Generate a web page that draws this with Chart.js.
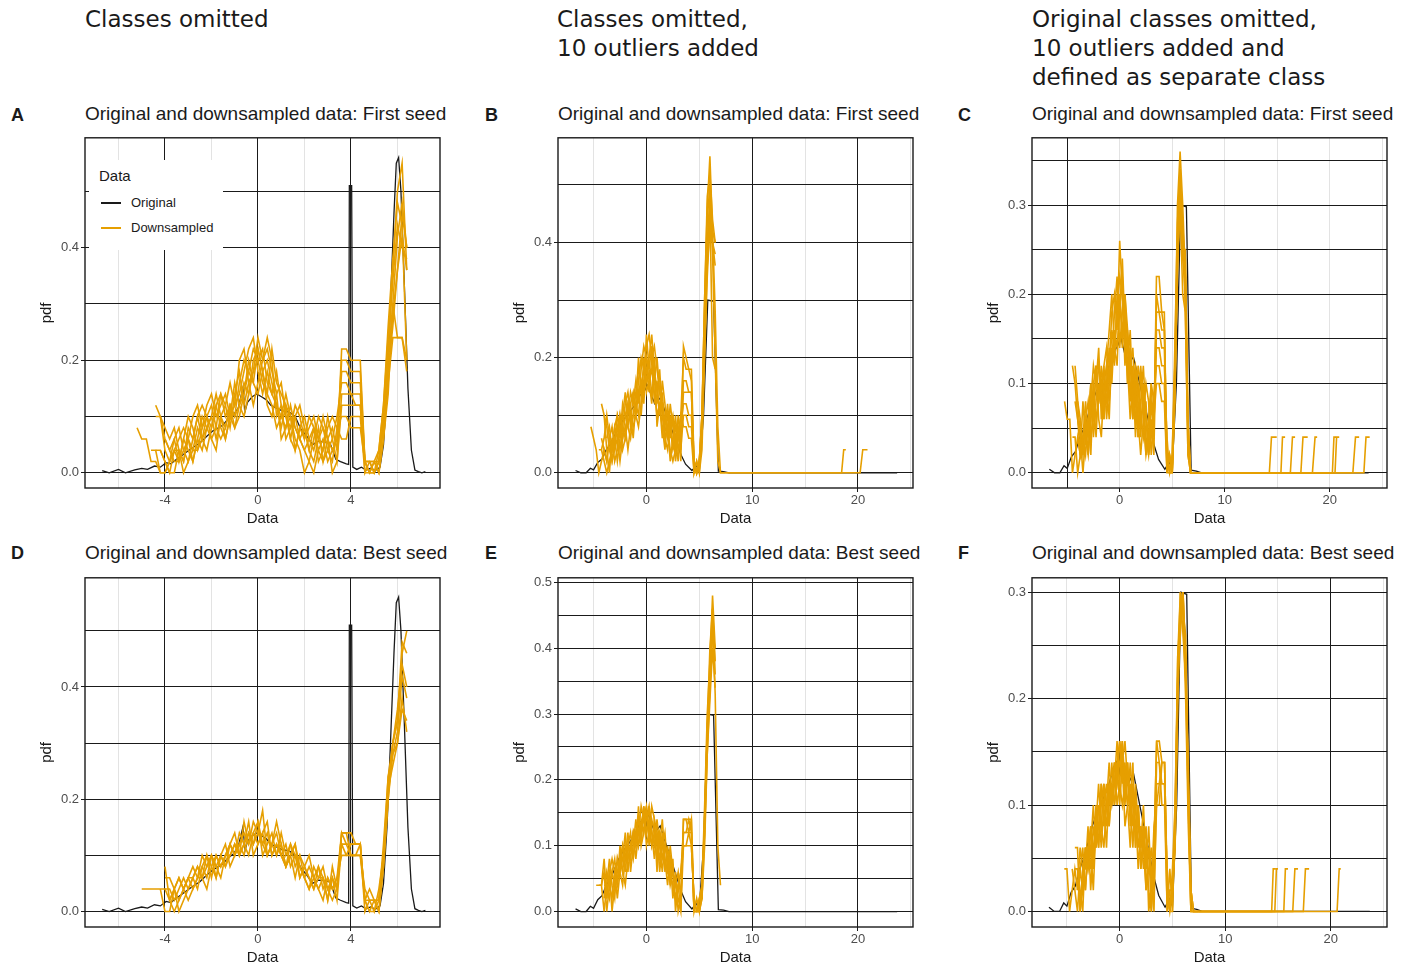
<!DOCTYPE html>
<html>
<head>
<meta charset="utf-8">
<script src="https://cdn.jsdelivr.net/npm/chart.js@4.4.1/dist/chart.umd.min.js"></script>
<style>
body{margin:0;background:#fff;width:1411px;height:968px;position:relative;overflow:hidden;color:#1a1a1a}
.hdr{position:absolute;top:5px;font:23px/29px "DejaVu Sans";white-space:nowrap}
.ptitle{position:absolute;font:19px/20px "Liberation Sans";white-space:nowrap}
.tag{position:absolute;font:bold 18px/18px "Liberation Sans"}
canvas{position:absolute}
#legend{position:absolute;left:89px;top:160px;width:134px;height:90px;background:#fff;font-family:"Liberation Sans"}
#legend div{position:absolute;white-space:nowrap}
</style>
</head>
<body>
<div class="hdr" style="left:85px">Classes omitted</div>
<div class="hdr" style="left:557px">Classes omitted,<br>10 outliers added</div>
<div class="hdr" style="left:1032px">Original classes omitted,<br>10 outliers added and<br>defined as separate class</div>

<div class="tag" style="left:11px;top:106px">A</div>
<div class="tag" style="left:485px;top:106px">B</div>
<div class="tag" style="left:958px;top:106px">C</div>
<div class="tag" style="left:11px;top:544px">D</div>
<div class="tag" style="left:485px;top:544px">E</div>
<div class="tag" style="left:958px;top:544px">F</div>

<div class="ptitle" style="left:85px;top:104px">Original and downsampled data: First seed</div>
<div class="ptitle" style="left:558px;top:104px">Original and downsampled data: First seed</div>
<div class="ptitle" style="left:1032px;top:104px">Original and downsampled data: First seed</div>
<div class="ptitle" style="left:85px;top:543px">Original and downsampled data: Best seed</div>
<div class="ptitle" style="left:558px;top:543px">Original and downsampled data: Best seed</div>
<div class="ptitle" style="left:1032px;top:543px">Original and downsampled data: Best seed</div>

<canvas id="cA" width="415" height="400" style="left:30px;top:128px"></canvas>
<canvas id="cB" width="415" height="400" style="left:503px;top:128px"></canvas>
<canvas id="cC" width="415" height="400" style="left:977px;top:128px"></canvas>
<canvas id="cD" width="415" height="399" style="left:30px;top:568px"></canvas>
<canvas id="cE" width="415" height="399" style="left:503px;top:568px"></canvas>
<canvas id="cF" width="415" height="399" style="left:977px;top:568px"></canvas>

<div id="legend">
  <div style="left:10px;top:7px;font-size:15px;color:#1a1a1a">Data</div>
  <div style="left:12px;top:42px;width:20px;height:2px;background:#1a1a1a"></div>
  <div style="left:42px;top:35px;font-size:13px;color:#1a1a1a">Original</div>
  <div style="left:12px;top:67px;width:20px;height:2px;background:#E69F00"></div>
  <div style="left:42px;top:60px;font-size:13px;color:#1a1a1a">Downsampled</div>
</div>

<script>
const ORANGE = '#E69F00';
const INK = '#1a1a1a';
const MINOR = '#e3e3e3';

// x grids of the downsampled densities
const gridAD = [-5.2,-5.0,-4.8,-4.6,-4.4,-4.2,-4.0,-3.8,-3.6,-3.4,-3.2,-3.0,-2.8,-2.6,-2.4,-2.2,-2.0,-1.8,-1.6,-1.4,
  -1.2,-1.0,-0.8,-0.6,-0.4,-0.2,0,0.2,0.4,0.6,0.8,1.0,1.2,1.4,1.6,1.8,2.0,2.2,2.4,2.6,
  2.8,3.0,3.2,3.4,3.6,3.8,4.0,4.2,4.4,4.6,4.8,5.0,5.2,5.4,5.6,5.8,6.0,6.2,6.4];
const gridBF = [-5.25,-5,-4.75,-4.5,-4.25,-4,-3.75,-3.5,-3.25,-3,-2.75,-2.5,-2.25,-2,-1.75,-1.5,-1.25,-1,-0.75,-0.5,
  -0.25,0,0.25,0.5,0.75,1,1.25,1.5,1.75,2,2.25,2.5,2.75,3,3.25,3.5,3.75,4,4.25,4.5,
  4.75,5,5.25,5.5,5.75,6,6.25,6.5,6.75,7,7.25,7.5];

// original density (panels A, D)
const origAX = [-6.7,-6.4,-6.0,-5.7,-5.3,-5.0,-4.75,-4.45,-4.2,-3.95,-3.75,-3.5,-3.3,-3.1,-2.8,-2.5,-2.2,-1.95,-1.7,-1.5,
  -1.3,-1.05,-0.85,-0.65,-0.55,-0.45,-0.25,-0.05,0.15,0.35,0.55,0.8,1.05,1.35,1.6,1.85,2.1,2.35,2.6,2.85,
  3.1,3.35,3.55,3.8,3.9,3.93,4.03,4.08,4.25,4.45,4.65,4.85,5.05,5.25,5.4,5.55,5.7,5.85,5.95,6.05,
  6.15,6.3,6.45,6.6,6.75,6.9,7.05,7.2];
const origAY = [0.004,0,0.006,0,0.005,0.008,0.006,0.012,0.01,0.018,0.016,0.024,0.03,0.036,0.045,0.053,0.065,0.074,0.08,0.085,
  0.095,0.103,0.115,0.15,0.11,0.125,0.135,0.14,0.135,0.13,0.12,0.115,0.11,0.108,0.1,0.077,0.065,0.05,0.056,0.055,
  0.053,0.024,0.02,0.016,0.015,0.51,0.51,0.01,0.006,0.01,0.005,0.008,0.004,0.01,0.05,0.15,0.3,0.46,0.55,0.56,
  0.5,0.33,0.15,0.04,0.005,0.002,0,0.002];

// original density with outliers (panels B, C, E, F)
const origBX = [-6.7,-6.2,-5.7,-5.3,-5.0,-4.6,-4.2,-3.8,-3.4,-3.0,-2.6,-2.2,-1.8,-1.4,-1.0,-0.6,-0.2,0.1,0.45,0.8,
  1.3,1.7,2.1,2.5,2.9,3.3,3.7,4.3,4.7,5.0,5.4,5.8,6.35,6.8,7.3,7.8,23.7];
const origBY = [0.004,0,0,0.008,0.005,0.018,0.024,0.04,0.05,0.065,0.08,0.092,0.1,0.11,0.12,0.135,0.142,0.152,0.135,0.12,
  0.13,0.11,0.09,0.07,0.05,0.03,0.015,0.004,0.012,0.005,0.1,0.3,0.298,0.003,0.002,0,0];

// downsampled densities, first seed, classes omitted
const downA = [
  [0.08,0.06,0.06,0.02,0.02,0,0,0.02,0.04,0.04, 0.02,0.06,0.04,0.08,0.06,0.1,0.08,0.12,0.08,0.06, 0.1,0.08,0.12,0.16,0.14,0.2,0.22,0.18,0.2,0.16, 0.12,0.1,0.08,0.12,0.08,0.06,0.04,0.06,0.08,0.04, 0.06,0.02,0.04,0.06,0.2,0.2,0.18,0.18,0.18,0.02, 0.02,0,0.02,0.08,0.2,0.3,0.42,0.48,0.4],
  [null,null,null,null,0.12,0.1,0.06,0.04,0.02,0.02, 0.06,0.04,0.02,0.06,0.1,0.08,0.06,0.04,0.1,0.12, 0.08,0.14,0.18,0.12,0.16,0.18,0.24,0.2,0.22,0.18, 0.14,0.16,0.1,0.06,0.1,0.12,0.08,0.04,0.02,0.06, 0.1,0.06,0.08,0.04,0.22,0.22,0.2,0.2,0.2,0.02, 0,0,0.04,0.12,0.24,0.36,0.5,0.55,0.36],
  [null,null,null,null,0.04,0.04,0.02,0,0,0.04, 0.02,0.08,0.06,0.1,0.06,0.04,0.08,0.12,0.14,0.1, 0.12,0.08,0.1,0.14,0.2,0.16,0.14,0.18,0.12,0.1, 0.14,0.06,0.08,0.1,0.04,0.08,0.1,0.06,0.04,0.08, 0.02,0.06,0,0.02,0.12,0.12,0.12,0.12,0.12,0.02, 0.02,0.02,0,0.06,0.16,0.24,0.24,0.24,0.2],
  [null,null,null,0.04,0.04,0,0,0.02,0.06,0.08, 0.04,0.02,0.06,0.1,0.12,0.1,0.12,0.08,0.06,0.08, 0.12,0.1,0.16,0.2,0.18,0.22,0.2,0.16,0.14,0.12, 0.08,0.1,0.14,0.1,0.06,0.04,0,0.02,0.06,0.1, 0.08,0.04,0.06,0.1,0.16,0.16,0.14,0.14,0.14,0, 0,0.02,0.02,0.1,0.22,0.34,0.44,0.4,0.38],
  [null,null,null,null,null,0.1,0.08,0.06,0.08,0.04, 0,0.02,0.04,0.04,0.08,0.12,0.14,0.1,0.12,0.14, 0.1,0.12,0.2,0.22,0.16,0.12,0.16,0.2,0.24,0.2, 0.1,0.12,0.1,0.08,0.12,0.1,0.06,0.1,0.08,0.06, 0.04,0.08,0.1,0.08,0.1,0.1,0.08,0.08,0.08,0.02, 0,0,0.02,0.08,0.18,0.26,0.36,0.46,0.4],
  [null,null,null,null,null,null,0.06,0.04,0.06,0.02, 0.06,0.1,0.08,0.04,0.06,0.08,0.1,0.14,0.1,0.06, 0.1,0.16,0.12,0.1,0.14,0.18,0.2,0.22,0.16,0.14, 0.18,0.12,0.06,0.08,0.1,0.06,0.08,0.04,0.08,0.02, 0.04,0.1,0.06,0.02,0.14,0.14,0.14,0.12,0.12,0.02, 0,0.02,0,0.06,0.14,0.3,0.24,0.24,0.18],
  [null,null,null,null,0.1,0.1,0.04,0.02,0.04,0.06, 0.08,0.06,0.1,0.12,0.08,0.1,0.06,0.08,0.14,0.12, 0.16,0.12,0.14,0.18,0.22,0.24,0.18,0.14,0.18,0.14, 0.12,0.08,0.12,0.06,0.04,0.08,0.06,0.08,0.1,0.06, 0.08,0.06,0.04,0.06,0.18,0.18,0.16,0.16,0.16,0.02, 0.02,0,0.02,0.1,0.2,0.28,0.36,0.42,0.36],
  [null,null,null,null,null,0.04,0.02,0,0.04,0.02, 0.04,0.06,0.02,0.06,0.04,0.08,0.1,0.06,0.1,0.08, 0.12,0.1,0.12,0.14,0.18,0.16,0.22,0.18,0.14,0.22, 0.16,0.14,0.12,0.1,0.08,0.06,0.04,0.02,0,0.04, 0.02,0.04,0.02,0.08,0.06,0.06,0.1,0.1,0.1,0, 0.02,0.02,0.04,0.12,0.26,0.38,0.48,0.44,0.2]
];

// best seed, classes omitted
const downD = [
  [null,0.04,0.04,0.04,0.04,0.04,0.04,0.02,0.04,0.06, 0.04,0.06,0.04,0.06,0.08,0.06,0.1,0.08,0.1,0.08, 0.12,0.1,0.12,0.14,0.12,0.16,0.14,0.12,0.14,0.1, 0.12,0.1,0.12,0.08,0.1,0.08,0.06,0.04,0.06,0.04, 0.06,0.04,0.02,0.04,0.14,0.12,0.12,0.12,0.12,0.02, 0,0.02,0.02,0.12,0.24,0.28,0.32,0.42,0.38],
  [null,null,null,null,null,null,0.08,0.02,0,0.02, 0.04,0.06,0.08,0.06,0.06,0.08,0.1,0.08,0.06,0.1, 0.1,0.12,0.1,0.16,0.12,0.14,0.12,0.14,0.1,0.12, 0.14,0.1,0.08,0.12,0.1,0.06,0.08,0.06,0.04,0.08, 0.06,0.02,0.06,0.04,0.12,0.12,0.1,0.1,0.1,0.02, 0.02,0,0.04,0.1,0.22,0.3,0.34,0.46,0.5],
  [null,null,null,null,null,null,0.04,0.04,0.02,0.04, 0.06,0.04,0.06,0.08,0.06,0.1,0.06,0.1,0.08,0.1, 0.12,0.1,0.14,0.12,0.1,0.14,0.16,0.1,0.12,0.14, 0.1,0.12,0.08,0.1,0.12,0.08,0.06,0.08,0.06,0.04, 0.02,0.06,0.04,0.06,0.1,0.1,0.12,0.12,0.12,0, 0.02,0.02,0,0.08,0.2,0.28,0.3,0.36,0.34],
  [null,null,null,null,null,0.04,0,0,0.04,0.06, 0.04,0.06,0.06,0.04,0.08,0.1,0.08,0.06,0.1,0.12, 0.08,0.1,0.12,0.1,0.14,0.12,0.14,0.18,0.1,0.12, 0.1,0.14,0.1,0.12,0.08,0.1,0.06,0.04,0.08,0.06, 0.06,0.02,0.08,0.04,0.14,0.14,0.14,0.12,0.12,0.02, 0,0,0.02,0.1,0.24,0.3,0.36,0.44,0.4],
  [null,null,null,null,null,null,null,0.02,0.04,0, 0.02,0.04,0.06,0.08,0.06,0.04,0.08,0.1,0.08,0.1, 0.12,0.14,0.1,0.12,0.16,0.1,0.12,0.14,0.16,0.1, 0.12,0.1,0.08,0.1,0.12,0.06,0.08,0.06,0.04,0.06, 0.08,0.04,0.06,0.02,0.12,0.1,0.1,0.1,0.1,0.04, 0.02,0.02,0.02,0.1,0.22,0.26,0.3,0.38,0.32],
  [null,null,null,null,null,null,0.06,0.06,0.04,0.02, 0.04,0.02,0.04,0.06,0.1,0.08,0.1,0.06,0.1,0.08, 0.1,0.12,0.1,0.12,0.14,0.12,0.16,0.12,0.1,0.12, 0.16,0.12,0.08,0.1,0.06,0.1,0.08,0.1,0.06,0.08, 0.04,0.06,0.04,0.06,0.14,0.14,0.1,0.1,0.12,0.02, 0.04,0.02,0,0.08,0.2,0.3,0.34,0.48,0.46]
];

// first seed, 10 outliers added
const downB = [
  [0.08,0.06,0.04,0,0.02,0.04,0.02,0.06,0.04,0.08, 0.1,0.06,0.12,0.1,0.08,0.12,0.14,0.1,0.16,0.2, 0.18,0.22,0.24,0.2,0.16,0.12,0.18,0.1,0.08,0.12, 0.06,0.1,0.04,0.08,0.02,0.22,0.2,0.18,0.18,0.02, 0,0.02,0.1,0.3,0.46,0.55,0.42,0.28,0.08,0, 0,0],
  [null,null,null,null,0.12,0.1,0.04,0,0.06,0.02, 0.04,0.1,0.08,0.12,0.14,0.1,0.06,0.12,0.2,0.14, 0.18,0.16,0.2,0.24,0.18,0.14,0.1,0.16,0.12,0.06, 0.1,0.04,0.08,0.06,0.1,0.2,0.18,0.18,0.16,0, 0.02,0,0.08,0.26,0.4,0.48,0.38,0.2,0.02,0, 0,0],
  [null,null,null,null,0.04,0.02,0,0.02,0.04,0.08, 0.06,0.02,0.06,0.1,0.12,0.08,0.14,0.1,0.08,0.12, 0.2,0.14,0.16,0.12,0.2,0.08,0.12,0.06,0.1,0.08, 0.02,0.06,0.1,0.04,0.06,0.16,0.16,0.14,0.14,0.02, 0,0.02,0.06,0.22,0.36,0.42,0.4,0.36,null,null, null,null],
  [null,null,null,null,null,0.1,0.08,0.04,0.02,0.06, 0.08,0.04,0.08,0.06,0.1,0.14,0.12,0.16,0.12,0.18, 0.22,0.2,0.16,0.18,0.14,0.1,0.12,0.08,0.04,0.1, 0.08,0.04,0.06,0.02,0.08,0.12,0.12,0.1,0.1,0, 0,0.02,0.1,0.28,0.44,0.5,0.42,0.4,null,null, null,null],
  [null,null,null,0.04,0.04,0.06,0.1,0.06,0.02,0.04, 0.06,0.1,0.06,0.08,0.04,0.08,0.1,0.14,0.18,0.16, 0.12,0.2,0.18,0.14,0.16,0.2,0.14,0.1,0.06,0.04, 0.08,0.1,0.06,0.08,0.04,0.1,0.1,0.08,0.08,0.02, 0,0.02,0.08,0.24,0.38,0.46,0.2,0.18,null,null, null,null],
  [null,null,null,null,null,null,0.06,0.08,0.04,0.06, 0.02,0.06,0.1,0.14,0.08,0.06,0.1,0.12,0.1,0.16, 0.14,0.24,0.18,0.22,0.12,0.16,0.1,0.14,0.08,0.06, 0.12,0.08,0.02,0.06,0.1,0.08,0.08,0.06,0.06,0, 0.02,0,0.04,0.2,0.34,0.44,0.4,0.38,null,null, null,null],
  [null,null,null,null,0.06,0.04,0.02,0.06,0.08,0.04, 0.1,0.08,0.04,0.06,0.12,0.1,0.08,0.1,0.14,0.1, 0.16,0.18,0.14,0.2,0.22,0.18,0.14,0.12,0.06,0.08, 0.04,0.02,0.04,0.1,0.06,0.14,0.14,0.14,0.14,0.02, 0,0.02,0.1,0.3,0.48,0.52,0.44,0.4,null,null, null,null]
];
const tailsB = [
  [[7.5,0],[18.45,0],[18.65,0.04],[18.85,0.04]],
  [[7.5,0],[20.2,0],[20.45,0.04],[20.9,0.04]]
];

// first seed, outliers as separate class
const downC = [
  [0.08,0.06,0.06,0,0.02,0.04,0.02,0.04,0.08,0.04, 0.1,0.06,0.12,0.08,0.1,0.06,0.12,0.16,0.2,0.14, 0.18,0.22,0.2,0.12,0.16,0.1,0.06,0.12,0.08,0.04, 0.1,0.06,0.02,0.08,0.04,0.2,0.18,0.18,0.16,0.02, 0,0.02,0.12,0.3,0.36,0.3,0.22,0.04,0,0, 0,0],
  [null,null,null,0.12,0.1,0.06,0.04,0.02,0.06,0.02, 0.08,0.12,0.1,0.14,0.06,0.1,0.08,0.12,0.18,0.2, 0.16,0.26,0.2,0.16,0.1,0.14,0.06,0.1,0.04,0.12, 0.08,0.02,0.06,0.1,0.04,0.22,0.22,0.18,0.18,0, 0.02,0,0.1,0.26,0.34,0.25,0.25,0.06,0,0, 0,0],
  [null,null,null,0.04,0.04,0,0.02,0.04,0.06,0.08, 0.04,0.06,0.12,0.08,0.1,0.12,0.14,0.1,0.12,0.18, 0.22,0.14,0.18,0.2,0.14,0.08,0.12,0.04,0.1,0.06, 0.08,0.04,0.02,0.06,0.02,0.16,0.16,0.14,0.14,0.02, 0.02,0,0.08,0.24,0.3,0.2,0.18,0.02,0,0, 0,0],
  [null,null,null,null,0.08,0.06,0.02,0.08,0.04,0.06, 0.02,0.1,0.06,0.08,0.12,0.08,0.1,0.06,0.14,0.12, 0.2,0.18,0.22,0.14,0.12,0.16,0.08,0.1,0.06,0.02, 0.06,0.1,0.08,0.02,0.06,0.1,0.1,0.08,0.08,0, 0,0.02,0.14,0.28,0.34,0.26,0.24,0.06,0,0, 0,0],
  [null,null,null,null,0.12,0.08,0.04,0,0.04,0.02, 0.06,0.08,0.04,0.1,0.08,0.12,0.06,0.1,0.16,0.14, 0.12,0.2,0.16,0.18,0.1,0.12,0.14,0.08,0.04,0.08, 0.12,0.06,0.04,0.08,0.06,0.18,0.18,0.16,0.16,0.02, 0,0,0.1,0.22,0.32,0.24,0.2,0.04,0,0, 0,0],
  [null,null,null,null,null,0.04,0.02,0.04,0.02,0.06, 0.1,0.04,0.08,0.12,0.1,0.06,0.1,0.14,0.1,0.16, 0.14,0.18,0.24,0.16,0.12,0.06,0.1,0.12,0.1,0.06, 0.04,0.08,0.02,0.04,0.08,0.12,0.12,0.1,0.1,0, 0.02,0,0.12,0.26,0.32,0.28,0.18,0.02,0,0, 0,0],
  [null,null,null,null,null,0.08,0.06,0.02,0.06,0.04, 0.06,0.1,0.12,0.06,0.04,0.1,0.12,0.08,0.12,0.14, 0.18,0.2,0.14,0.2,0.16,0.12,0.08,0.06,0.12,0.1, 0.06,0.02,0.04,0.1,0.08,0.14,0.14,0.12,0.12,0.04, 0,0,0.08,0.24,0.3,0.28,0.22,0.04,0,0, 0,0]
];
const tailsC = [
  [[7.5,0],[14.25,0],[14.45,0.04],[14.95,0.04]],
  [[7.5,0],[15.35,0],[15.5,0.04],[15.75,0.04]],
  [[7.5,0],[16.25,0],[16.45,0.04],[16.7,0.04]],
  [[7.5,0],[17.25,0],[17.45,0.04],[17.9,0.04]],
  [[7.5,0],[18.35,0],[18.6,0.04],[18.8,0.04]],
  [[7.5,0],[20.25,0],[20.4,0.04],[20.6,0.04]],
  [[7.5,0],[20.5,0],[20.65,0.04],[20.9,0.04]],
  [[7.5,0],[22.2,0],[22.45,0.04],[22.8,0.04]],
  [[7.5,0],[23.25,0],[23.45,0.04],[23.8,0.04]]
];

// best seed, 10 outliers added
const downE = [
  [null,null,0.04,0.04,0.04,0,0.04,0.02,0.06,0.04, 0.08,0.06,0.04,0.08,0.1,0.08,0.12,0.1,0.14,0.12, 0.16,0.12,0.14,0.1,0.12,0.1,0.08,0.12,0.06,0.1, 0.06,0.04,0.02,0.04,0,0.14,0.14,0.14,0.14,0, 0,0,0.04,0.16,0.3,0.38,0.48,0.4,null,null, null,null],
  [null,null,null,0.04,0.04,0.06,0,0.04,0.02,0.06, 0.04,0.08,0.1,0.06,0.1,0.12,0.08,0.12,0.1,0.14, 0.12,0.16,0.1,0.14,0.12,0.08,0.12,0.1,0.08,0.06, 0.08,0.02,0.06,0,0.02,0.12,0.12,0.12,0.12,0, 0,0.02,0.02,0.12,0.26,0.34,0.44,0.33,0.1,0.04, null,null],
  [null,null,null,null,0.04,0.08,0.02,0.06,0,0.04, 0.06,0.08,0.06,0.1,0.08,0.1,0.12,0.08,0.12,0.16, 0.14,0.12,0.16,0.12,0.1,0.14,0.1,0.06,0.1,0.08, 0.04,0.06,0.04,0.02,0,0.1,0.1,0.1,0.1,0.02, 0,0,0.02,0.14,0.28,0.36,0.46,0.38,null,null, null,null],
  [null,null,null,null,null,0.04,0.04,0.08,0.04,0.02, 0.08,0.06,0.1,0.08,0.12,0.06,0.1,0.14,0.1,0.12, 0.14,0.16,0.12,0.1,0.14,0.12,0.06,0.1,0.12,0.06, 0.1,0.06,0.04,0.06,0.02,0.14,0.14,0.12,0.14,0, 0.02,0,0.04,0.12,0.24,0.34,0.42,0.4,null,null, null,null],
  [null,null,null,null,null,0.02,0.06,0.04,0.06,0.08, 0.04,0.1,0.06,0.04,0.08,0.1,0.12,0.1,0.16,0.1, 0.12,0.14,0.16,0.12,0.08,0.12,0.1,0.14,0.08,0.04, 0.08,0.06,0.02,0.04,0.06,0.12,0.12,0.14,0.12,0, 0,0.02,0.04,0.14,0.28,0.4,0.46,0.36,null,null, null,null],
  [null,null,null,null,null,null,0.02,0.06,0.08,0.06, 0.02,0.06,0.08,0.12,0.06,0.1,0.08,0.12,0.14,0.1, 0.16,0.1,0.12,0.16,0.14,0.06,0.12,0.08,0.1,0.08, 0.04,0.08,0,0.04,0.06,0.1,0.1,0.12,0.1,0.02, 0,0,0.02,0.1,0.24,0.32,0.4,0.34,null,null, null,null]
];

// best seed, outliers as separate class
const downF = [
  [0.04,0.04,0,0.02,0.04,0.02,0.06,0.04,0.02,0.06, 0.08,0.04,0.08,0.1,0.06,0.1,0.12,0.08,0.12,0.1, 0.14,0.16,0.12,0.14,0.1,0.12,0.08,0.1,0.06,0.08, 0.04,0.06,0.02,0,0.06,0.16,0.14,0.12,0.12,0.04, 0,0.02,0.06,0.2,0.28,0.3,0.24,0.12,0.02,0, 0,0],
  [null,null,null,0.04,0.02,0,0.04,0.02,0.06,0.04, 0.06,0.1,0.06,0.08,0.12,0.08,0.1,0.12,0.1,0.14, 0.12,0.14,0.16,0.1,0.14,0.08,0.12,0.06,0.1,0.04, 0.08,0.02,0.06,0.04,0,0.12,0.12,0.14,0.14,0.02, 0,0.04,0.1,0.24,0.3,0.28,0.26,0.1,0,0, 0,0],
  [null,null,null,null,0.06,0.06,0,0.04,0.04,0.08, 0.02,0.06,0.08,0.12,0.08,0.06,0.1,0.14,0.1,0.12, 0.16,0.12,0.1,0.12,0.14,0.1,0.06,0.12,0.08,0.06, 0.1,0.04,0.06,0,0.04,0.14,0.14,0.1,0.1,0, 0.04,0,0.08,0.22,0.26,0.3,0.22,0.14,0.02,0, 0,0],
  [null,null,null,null,0.04,0.04,0.02,0,0.06,0.04, 0.08,0.04,0.1,0.06,0.1,0.12,0.08,0.1,0.14,0.1, 0.12,0.16,0.14,0.08,0.1,0.14,0.1,0.08,0.1,0.04, 0.06,0.08,0,0.02,0.08,0.1,0.12,0.12,0.12,0, 0.02,0.02,0.06,0.2,0.28,0.28,0.2,0.08,0,0, 0,0],
  [null,null,null,null,null,0.02,0.04,0.06,0.02,0.06, 0.04,0.08,0.06,0.1,0.08,0.12,0.1,0.08,0.12,0.14, 0.1,0.12,0.16,0.12,0.1,0.06,0.12,0.1,0.04,0.08, 0.06,0.02,0.04,0.06,0.02,0.1,0.1,0.14,0.14,0.02, 0,0.02,0.08,0.24,0.28,0.3,0.24,0.12,0.02,0, 0,0],
  [null,null,null,null,null,0.04,0,0.02,0.06,0.04, 0.06,0.02,0.08,0.06,0.12,0.1,0.06,0.12,0.1,0.12, 0.14,0.1,0.14,0.16,0.12,0.1,0.14,0.06,0.1,0.06, 0.08,0.04,0.08,0.02,0.06,0.16,0.16,0.14,0.14,0.02, 0,0,0.1,0.22,0.3,0.26,0.22,0.1,0,0, 0,0]
];
const tailsF = [
  [[7.5,0],[14.4,0],[14.55,0.04],[14.8,0.04]],
  [[7.5,0],[14.7,0],[14.85,0.04],[15.0,0.04]],
  [[7.5,0],[15.55,0],[15.7,0.04],[15.95,0.04]],
  [[7.5,0],[16.4,0],[16.6,0.04],[16.9,0.04]],
  [[7.5,0],[17.4,0],[17.6,0.04],[17.95,0.04]],
  [[7.5,0],[20.6,0],[20.8,0.04],[20.95,0.04]]
];

// ticks and labels
const xTicksAD = [-6,-4,-2,0,2,4,6];
const xLabelsAD = ['','-4','','0','','4',''];
const xTicksBF = [-5,0,5,10,15,20,25];
const xLabelsBF = ['','0','','10','','20',''];
const yTicksABD = [0,0.1,0.2,0.3,0.4,0.5];
const yLabelsABD = ['0.0','','0.2','','0.4',''];
const yTicksC = [0,0.05,0.1,0.15,0.2,0.25,0.3,0.35];
const yLabelsC = ['0.0','','0.1','','0.2','','0.3',''];
const yTicksE = [0,0.05,0.1,0.15,0.2,0.25,0.3,0.35,0.4,0.45,0.5];
const yLabelsE = ['0.0','','0.1','','0.2','','0.3','','0.4','','0.5'];
const yTicksF = [0,0.05,0.1,0.15,0.2,0.25,0.3];
const yLabelsF = ['0.0','','0.1','','0.2','','0.3'];

const frame = {
  id: 'frame',
  afterDraw(chart) {
    const ctx = chart.ctx, a = chart.chartArea;
    ctx.save();
    ctx.strokeStyle = INK;
    ctx.lineWidth = 1.4;
    ctx.strokeRect(a.left, a.top, a.right - a.left, a.bottom - a.top);
    ctx.restore();
  }
};

function toPts(xs, ys) { return ys.map((y, i) => ({x: xs[i], y: y})); }
function pairs(list) { return list.map(p => ({x: p[0], y: p[1]})); }

const tickFont = {family: 'Liberation Sans', size: 13};
const titleFont = {family: 'Liberation Sans', size: 15};

function panel(id, p) {
  const datasets = [];
  p.down.forEach(ys => datasets.push({data: toPts(p.grid, ys), borderColor: ORANGE, borderWidth: 1.6, order: 1}));
  (p.tails || []).forEach(t => datasets.push({data: pairs(t), borderColor: ORANGE, borderWidth: 1.6, order: 1}));
  datasets.push({data: toPts(p.origX, p.origY), borderColor: INK, borderWidth: 1.3, order: 2});

  new Chart(document.getElementById(id), {
    type: 'line',
    data: {datasets: datasets},
    options: {
      responsive: false,
      animation: false,
      devicePixelRatio: 1,
      layout: {padding: {top: 5, right: 5, left: 0, bottom: 0}},
      plugins: {legend: {display: false}, tooltip: {enabled: false}},
      elements: {point: {radius: 0}, line: {tension: 0, fill: false}},
      scales: {
        x: {
          type: 'linear', min: p.xMin, max: p.xMax,
          afterBuildTicks: s => { s.ticks = p.xTicks.map(v => ({value: v})); },
          afterFit: s => { s.height = 40; },
          ticks: {autoSkip: false, maxRotation: 0, padding: 1, font: tickFont, color: '#4d4d4d',
                  callback: (v, i) => p.xLabels[i]},
          grid: {
            color: c => (c.tick && p.xMajor(c.tick.value)) ? INK : MINOR,
            lineWidth: 1, tickLength: 4,
            tickColor: c => (c.tick && c.tick.label !== '') ? INK : 'rgba(0,0,0,0)'
          },
          border: {display: false},
          title: {display: true, text: 'Data', font: titleFont, color: INK, padding: {top: 0, bottom: 0}}
        },
        y: {
          type: 'linear', min: p.yMin, max: p.yMax,
          afterBuildTicks: s => { s.ticks = p.yTicks.map(v => ({value: v})); },
          afterFit: s => { s.width = 55; },
          ticks: {autoSkip: false, padding: 2, font: tickFont, color: '#4d4d4d',
                  callback: (v, i) => p.yLabels[i]},
          grid: {
            color: INK, lineWidth: 1, tickLength: 4,
            tickColor: c => (c.tick && c.tick.label !== '') ? INK : 'rgba(0,0,0,0)'
          },
          border: {display: false},
          title: {display: true, text: 'pdf', font: titleFont, color: INK, padding: {top: 8, bottom: 0}}
        }
      }
    },
    plugins: [frame]
  });
}

const majorAD = v => v % 4 === 0;
const majorBF = v => v % 10 === 0;

panel('cA', {grid: gridAD, down: downA, origX: origAX, origY: origAY,
  xMin: -7.44, xMax: 7.83, xTicks: xTicksAD, xLabels: xLabelsAD, xMajor: majorAD,
  yMin: -0.027, yMax: 0.595, yTicks: yTicksABD, yLabels: yLabelsABD});
panel('cB', {grid: gridBF, down: downB, tails: tailsB, origX: origBX, origY: origBY,
  xMin: -8.36, xMax: 25.2, xTicks: xTicksBF, xLabels: xLabelsBF, xMajor: majorBF,
  yMin: -0.0264, yMax: 0.582, yTicks: yTicksABD, yLabels: yLabelsABD});
panel('cC', {grid: gridBF, down: downC, tails: tailsC, origX: origBX, origY: origBY,
  xMin: -8.35, xMax: 25.45, xTicks: xTicksBF, xLabels: xLabelsBF, xMajor: v => v === -5,
  yMin: -0.017, yMax: 0.3753, yTicks: yTicksC, yLabels: yLabelsC});
panel('cD', {grid: gridAD, down: downD, origX: origAX, origY: origAY,
  xMin: -7.44, xMax: 7.83, xTicks: xTicksAD, xLabels: xLabelsAD, xMajor: majorAD,
  yMin: -0.0276, yMax: 0.5944, yTicks: yTicksABD, yLabels: yLabelsABD});
panel('cE', {grid: gridBF, down: downE, origX: origBX, origY: origBY,
  xMin: -8.36, xMax: 25.2, xTicks: xTicksBF, xLabels: xLabelsBF, xMajor: majorBF,
  yMin: -0.0235, yMax: 0.507, yTicks: yTicksE, yLabels: yLabelsE});
panel('cF', {grid: gridBF, down: downF, tails: tailsF, origX: origBX, origY: origBY,
  xMin: -8.31, xMax: 25.33, xTicks: xTicksBF, xLabels: xLabelsBF, xMajor: majorBF,
  yMin: -0.0146, yMax: 0.3135, yTicks: yTicksF, yLabels: yLabelsF});
</script>
</body>
</html>
